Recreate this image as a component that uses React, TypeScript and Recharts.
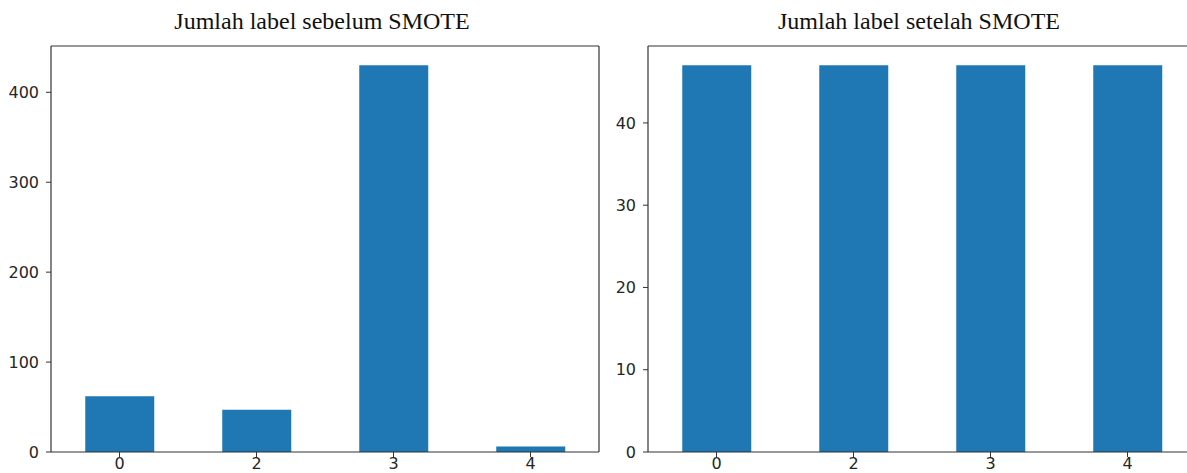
import React from "react";
import { BarChart, Bar, XAxis, YAxis } from "recharts";

const categories = ["0", "2", "3", "4"];
const beforeValues = [62, 47, 430, 6];
const afterValues = [47, 47, 47, 47];
const beforeTicks = [0, 100, 200, 300, 400];
const afterTicks = [0, 10, 20, 30, 40];
const titles = ["Jumlah label sebelum SMOTE", "Jumlah label setelah SMOTE"];

const beforeData = categories.map((c, i) => ({ label: c, value: beforeValues[i] }));
const afterData = categories.map((c, i) => ({ label: c, value: afterValues[i] }));

const AXIS = "#333333";
const FS = 16;

function XTick(props: any) {
  const { x, y, payload } = props;
  return (
    <text x={x} y={y} dy={9} textAnchor="middle" fill="#262626" fontSize={FS} fontFamily="DejaVu Sans">
      {payload.value}
    </text>
  );
}

function YTick(props: any) {
  const { x, y, payload } = props;
  return (
    <text x={x} y={y} dy={5.6} textAnchor="end" fill="#262626" fontSize={FS} fontFamily="DejaVu Sans">
      {payload.value}
    </text>
  );
}

function Panel({ data, ticks, max, title, left }: any) {
  return (
    <div style={{ position: "absolute", left, top: 0, width: 600, height: 473 }}>
      <div
        style={{
          position: "absolute",
          left: 48,
          width: 548,
          top: 7,
          textAlign: "center",
          fontFamily: "Liberation Serif",
          fontSize: 24,
          color: "#111",
          whiteSpace: "nowrap",
          lineHeight: "28px",
        }}
      >
        {title}
      </div>
      <BarChart
        width={600}
        height={473}
        data={data}
        margin={{ top: 45, right: 0, left: 0, bottom: 0 }}
        barCategoryGap="25%"
      >
        <XAxis
          dataKey="label"
          xAxisId="b"
          height={21}
          tickSize={5}
          tickMargin={3}
          tick={<XTick />}
          tickLine={{ stroke: AXIS }}
          axisLine={{ stroke: AXIS, strokeWidth: 1.2 }}
          interval={0}
        />
        <XAxis
          dataKey="label"
          xAxisId="t"
          orientation="top"
          height={1}
          tick={false}
          tickLine={false}
          axisLine={{ stroke: AXIS, strokeWidth: 1.2 }}
        />
        <YAxis
          yAxisId="l"
          width={51}
          domain={[0, max]}
          ticks={ticks}
          type="number"
          allowDataOverflow
          tickSize={5}
          tickMargin={7}
          tick={<YTick />}
          tickLine={{ stroke: AXIS }}
          axisLine={{ stroke: AXIS, strokeWidth: 1.2 }}
        />
        <YAxis
          yAxisId="r"
          orientation="right"
          width={1}
          domain={[0, max]}
          type="number"
          allowDataOverflow
          tick={false}
          tickLine={false}
          axisLine={{ stroke: AXIS, strokeWidth: 1.2 }}
        />
        <Bar dataKey="value" xAxisId="b" yAxisId="l" fill="#1f77b4" isAnimationActive={false} />
      </BarChart>
    </div>
  );
}

export default function App() {
  return (
    <div
      style={{
        position: "absolute",
        left: 0,
        top: 0,
        width: 1187,
        height: 473,
        overflow: "hidden",
        background: "#fff",
      }}
    >
      <Panel data={beforeData} ticks={beforeTicks} max={430 * 1.05} title={titles[0]} left={0} />
      <Panel data={afterData} ticks={afterTicks} max={47 * 1.05} title={titles[1]} left={597} />
    </div>
  );
}
